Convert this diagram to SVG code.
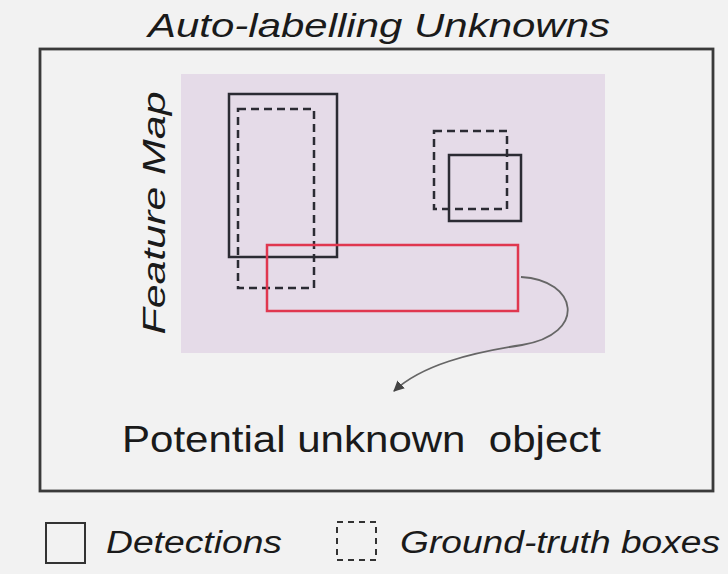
<svg xmlns="http://www.w3.org/2000/svg" width="728" height="574" viewBox="0 0 728 574">
<style>
text{font-family:"Liberation Sans","Open Sans",sans-serif;fill:#1a1a1a}
.it{font-style:italic}
.det{fill:none;stroke:#2b2b33;stroke-width:2.5}
.gt{fill:none;stroke:#2b2b33;stroke-width:2.5;stroke-dasharray:8 5}
</style>
<defs>
<marker id="ah" viewBox="0 0 10 10" refX="9" refY="5" markerWidth="6" markerHeight="6" orient="auto" markerUnits="strokeWidth">
<path d="M0,0 L10,5 L0,10 z" fill="#444"/>
</marker>
</defs>
<rect width="728" height="574" fill="#f2f2f2"/>
<text class="it" x="379" y="37" font-size="33" text-anchor="middle" textLength="462" lengthAdjust="spacingAndGlyphs">Auto-labelling Unknowns</text>
<rect x="40" y="49" width="673" height="442" fill="#f2f2f2" stroke="#3a3a3a" stroke-width="2.8"/>
<g id="featuremap">
<rect x="181" y="74" width="424" height="279" fill="#e5dbe8"/>
<text class="it" transform="translate(165,213) rotate(-90)" font-size="32" text-anchor="middle" textLength="243" lengthAdjust="spacingAndGlyphs">Feature Map</text>
</g>
<g id="det1"><rect class="det" x="229" y="94" width="108" height="163"/></g>
<g id="gt1"><rect class="gt" x="238" y="109" width="76" height="179"/></g>
<g id="gt2"><rect class="gt" x="434" y="131" width="73" height="78"/></g>
<g id="det2"><rect class="det" x="449" y="155" width="72" height="66"/></g>
<g id="unknown"><rect x="267" y="245" width="251" height="66" fill="none" stroke="#e0374f" stroke-width="2.5"/></g>
<g id="connectors">
<path d="M521,277 C578,280 588,334 522,345 C470,353 422,365 394,391" fill="none" stroke="#666" stroke-width="1.8" marker-end="url(#ah)"/>
</g>
<g id="label"><text x="122" y="452" font-size="37" textLength="479" lengthAdjust="spacingAndGlyphs" xml:space="preserve">Potential unknown  object</text></g>
<g id="legend">
<rect x="46" y="523" width="39" height="40" fill="none" stroke="#333" stroke-width="2"/>
<text class="it" x="106" y="553" font-size="31" textLength="176" lengthAdjust="spacingAndGlyphs">Detections</text>
<rect x="337" y="522" width="39" height="38" fill="none" stroke="#333" stroke-width="2" stroke-dasharray="6 5"/>
<text class="it" x="400" y="553" font-size="31" textLength="320" lengthAdjust="spacingAndGlyphs">Ground-truth boxes</text>
</g>
</svg>
